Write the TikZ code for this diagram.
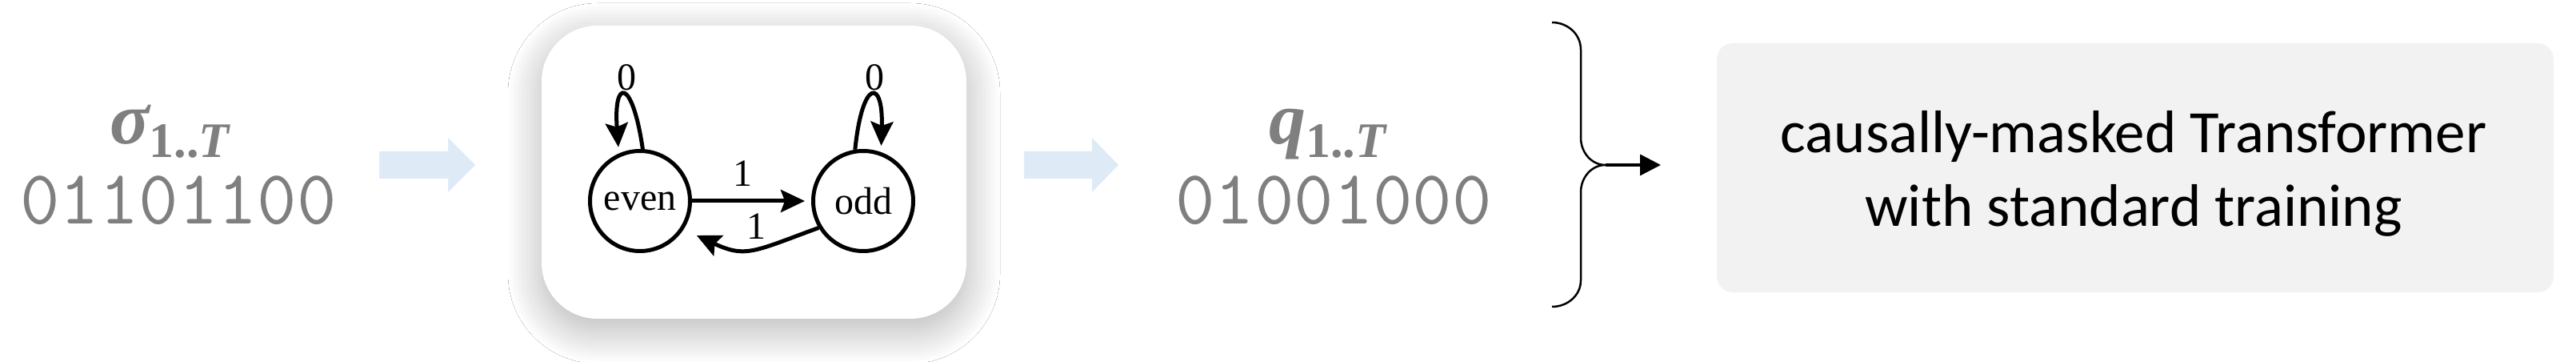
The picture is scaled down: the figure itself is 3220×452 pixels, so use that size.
\documentclass[tikz,border=0pt]{standalone}
\usepackage{fontspec}
\usetikzlibrary{arrows.meta,shadows.blur}
\newfontfamily\serifF{Liberation Serif}
\newfontfamily\calF{Carlito}
\definecolor{seqgray}{HTML}{7F7F7F}
\definecolor{arrowblue}{HTML}{DEEBF7}
\definecolor{boxgray}{HTML}{F2F2F2}
\begin{document}
\begin{tikzpicture}[x=1pt,y=1pt,
  seqsym/.style={text=seqgray, inner sep=0pt, anchor=base,
    font=\serifF\bfseries\itshape\fontsize{92}{92}\selectfont},
  bits/.style={text=seqgray, inner sep=0pt, anchor=base,
    font=\ttfamily\fontsize{96}{96}\selectfont},
  blockarrow/.style={fill=arrowblue},
  fsmbox/.style={rectangle, rounded corners=70pt, fill=white, inner sep=0pt,
    minimum width=531pt, minimum height=366pt,
    blur shadow={shadow xshift=0pt, shadow yshift=-14pt, shadow blur radius=42pt,
      shadow opacity=30, shadow blur steps=40}},
  state/.style={circle, draw=black, line width=5pt, fill=white, inner sep=0pt,
    minimum size=125pt, font=\serifF\fontsize{48}{48}\selectfont},
  fsmlabel/.style={inner sep=0pt, font=\serifF\fontsize{48}{48}\selectfont},
  fsmedge/.style={line width=5pt, -{Stealth[length=30pt,width=28pt,inset=5pt]}},
  bracestyle/.style={line width=2.5pt, black},
  outarrow/.style={line width=3.5pt, -{Triangle[length=26pt,width=26pt]}},
  tboxstyle/.style={rectangle, rounded corners=20pt, fill=boxgray, inner sep=0pt,
    minimum width=1046pt, minimum height=311pt},
  tboxtext/.style={inner sep=0pt, align=center,
    font=\calF\fontsize{75}{92}\selectfont}
]
\useasboundingbox (0,0) rectangle (3220,452);
\fill[white] (0,0) rectangle (3220,452);

% input sequence
\node[seqsym] (sig) at (212,272) {σ\raisebox{-17pt}[\height][0pt]{\fontsize{62}{62}\selectfont\upshape 1..\itshape T}};
\node[bits] (sigbits) at (223,172) {\raisebox{0pt}[0.62em][0pt]{01101100}};

% block arrows
\fill[blockarrow] (474,263) -- (560,263) -- (560,280) -- (594,246) -- (560,212) -- (560,229) -- (474,229) -- cycle;
\fill[blockarrow] (1280,263) -- (1365,263) -- (1365,280) -- (1398,246) -- (1365,212) -- (1365,229) -- (1280,229) -- cycle;

% automaton
\node[fsmbox] (fsm) at (942.5,237) {};
\node[state] (even) at (800,201) {even};
\node[state] (odd) at (1079,201) {odd};
\draw[fsmedge, shorten >=8pt] (even.87) .. controls +(-13,89) and +(-7,94) .. (even.114);
\draw[fsmedge, shorten >=8pt] (odd.99) .. controls +(9,89) and +(3,92) .. (odd.70);
\draw[fsmedge, shorten >=8pt] (even.east) -- (odd.west);
\draw[fsmedge, shorten >=18pt] (odd.211) to[out=200,in=-25,looseness=1.3] (even.-33);
\node[fsmlabel] (l0a) at (783,355) {0};
\node[fsmlabel] (l0b) at (1093,355) {0};
\node[fsmlabel] (l1a) at (928,235) {1};
\node[fsmlabel] (l1b) at (945,169) {1};

% output sequence
\node[seqsym] (q) at (1659,272) {q\raisebox{-17pt}[\height][0pt]{\fontsize{62}{62}\selectfont\upshape 1..\itshape T}};
\node[bits] (qbits) at (1667,172) {\raisebox{0pt}[0.62em][0pt]{01001000}};

% brace and arrow
\coordinate (brtip) at (2007,246);
\coordinate (arrend) at (2076,246);
\draw[bracestyle] (1940,424) to[out=0,in=90] (1976,390) -- (1976,280) to[out=-90,in=180] (brtip)
  to[out=180,in=90] (1976,212) -- (1976,102) to[out=-90,in=0] (1940,69);
\draw[outarrow] (brtip) -- (arrend);

% transformer box
\node[tboxstyle] (tbox) at (2669,242.5) {};
\node[tboxtext] (ttext) at (2667,235) {causally-masked Transformer\\with standard training};
\end{tikzpicture}
\end{document}
